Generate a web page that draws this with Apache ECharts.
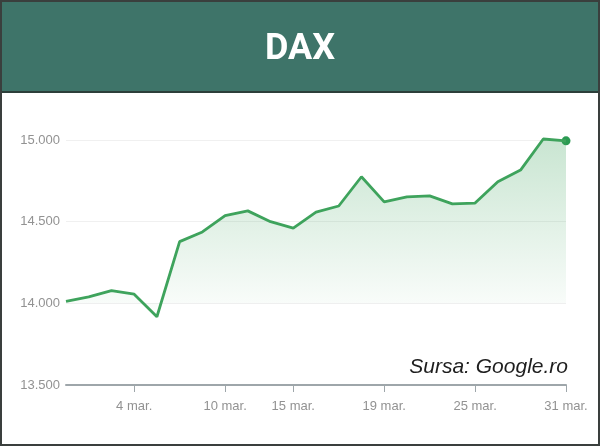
<!DOCTYPE html>
<html>
<head>
<meta charset="utf-8">
<script src="https://cdn.jsdelivr.net/npm/echarts@6/dist/echarts.min.js"></script>
<style>
html, body { margin: 0; padding: 0; background: #fff; }
#main { width: 600px; height: 446px; }
</style>
</head>
<body>
<div id="main"></div>
<script>
// zilele de tranzactionare din martie
var days = [1, 2, 3, 4, 5, 8, 9, 10, 11, 12, 15, 16, 17, 18, 19, 22, 23, 24, 25, 26, 29, 30, 31];
var dates = days.map(function (d) { return d + ' mar.'; });
var closes = [14012, 14039, 14078, 14056, 13918, 14378, 14437, 14537, 14566, 14500, 14461,
  14558, 14596, 14775, 14621, 14652, 14658, 14609, 14614, 14745, 14816, 15006, 14995];
var shownDates = ['4 mar.', '10 mar.', '15 mar.', '19 mar.', '25 mar.', '31 mar.'];
var yTicks = [13500, 14000, 14500, 15000];

var chart = echarts.init(document.getElementById('main'));

function fmt(v) {
  return String(v).replace(/\B(?=(\d{3})+(?!\d))/g, '.');
}
function showDate(idx, val) {
  return shownDates.indexOf(val) >= 0;
}

var last = closes.length - 1;

var option = {
  animation: false,
  backgroundColor: '#fff',
  title: {
    text: 'DAX',
    left: 'center',
    top: 27,
    textStyle: { color: '#fff', fontSize: 36, fontWeight: 'bold', fontFamily: 'Roboto' }
  },
  graphic: [
    { type: 'rect', z: -1, shape: { x: 0, y: 0, width: 600, height: 92 },
      style: { fill: '#3e7469' } },
    { type: 'line', shape: { x1: 0, y1: 92, x2: 600, y2: 92 },
      style: { stroke: '#2c3f3a', lineWidth: 2 } },
    { type: 'rect', shape: { x: 1, y: 1, width: 598, height: 444 },
      style: { fill: null, stroke: '#3a3f3d', lineWidth: 2 } },
    { type: 'text', right: 32, top: 357, z: 10,
      style: { text: 'Sursa: Google.ro', fill: '#1e1e1e', font: 'italic 21px "Liberation Sans"' } }
  ],
  grid: { left: 66, right: 34, top: 140, bottom: 61 },
  xAxis: {
    type: 'category',
    data: dates,
    boundaryGap: false,
    axisLine: { lineStyle: { color: '#9ea6aa', width: 2 } },
    axisTick: { interval: showDate, length: 7, lineStyle: { color: '#9ea6aa' } },
    axisLabel: { interval: showDate, margin: 15, color: '#929292', fontSize: 13, fontFamily: 'Liberation Sans' },
    splitLine: { show: false }
  },
  yAxis: {
    type: 'value',
    min: yTicks[0],
    max: yTicks[yTicks.length - 1],
    interval: 500,
    axisLine: { show: false },
    axisTick: { show: false },
    axisLabel: { margin: 6, color: '#929292', fontSize: 13, fontFamily: 'Liberation Sans', formatter: fmt },
    splitLine: { lineStyle: { color: '#f0f0f0' } }
  },
  series: [
    {
      type: 'line',
      data: closes,
      showSymbol: false,
      clip: false,
      lineStyle: { color: '#3ea35c', width: 2.8 },
      areaStyle: {
        origin: 14000,
        color: new echarts.graphic.LinearGradient(0, 0, 0, 1, [
          { offset: 0, color: 'rgba(62,163,92,0.4)' },
          { offset: 1, color: 'rgba(62,163,92,0.02)' }
        ])
      }
    },
    {
      type: 'scatter',
      data: [[dates[last], closes[last]]],
      symbolSize: 9,
      clip: false,
      itemStyle: { color: '#2b9a52', opacity: 1 }
    }
  ]
};
chart.setOption(option);
</script>
</body>
</html>
